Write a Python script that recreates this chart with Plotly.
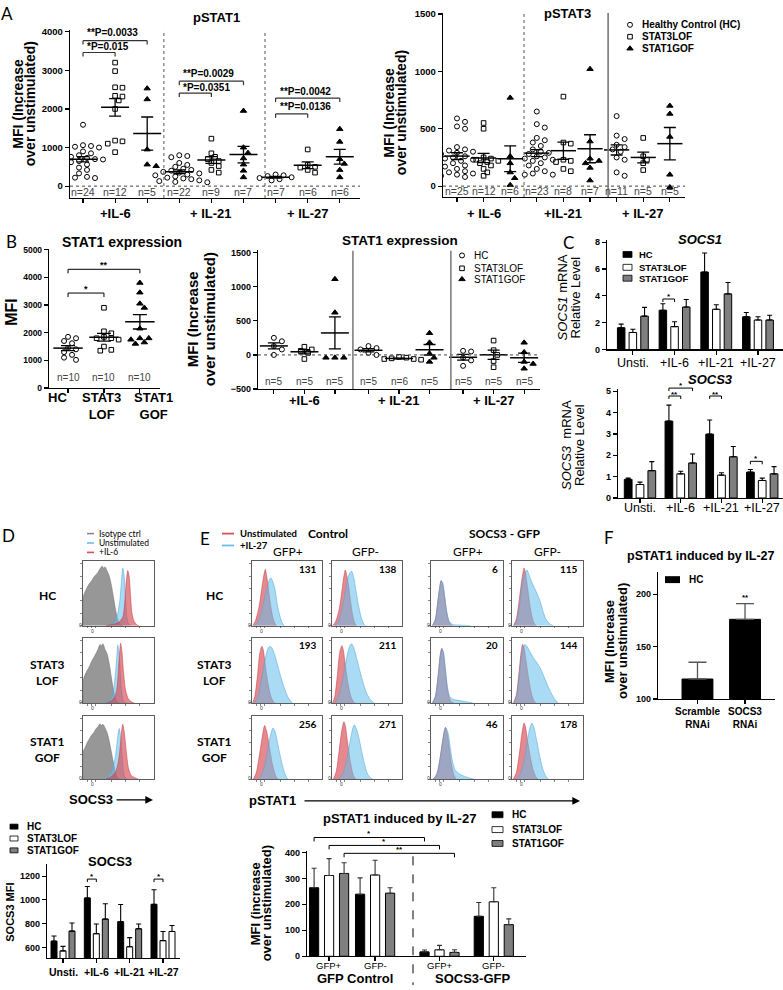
import numpy as np
import plotly.graph_objects as go

W, H = 783, 990
AR = "Liberation Sans, Arial, sans-serif"
CA = "Lato, Open Sans, sans-serif"

# ======================= DATA =======================
# ---- Panel A: pSTAT1, MFI (increase over unstimulated) ----
p1_il6_hc = [1590, 1060, 1040, 1020, 1000, 950, 900, 850, 800, 760, 730, 700,
             690, 670, 650, 620, 560, 480, 420, 330, 240, 220, 210, 200]
p1_il6_lof = [3200, 2980, 2560, 2550, 2340, 2320, 2220, 2000, 1180, 1160, 1100, 880]
p1_il6_gof = [2530, 2250, 950, 560, 520]
p1_il21_hc = [800, 780, 750, 600, 550, 500, 450, 420, 400, 370, 350, 330,
              300, 280, 250, 220, 200, 180, 150, 130, 110, 100]
p1_il21_lof = [1230, 850, 760, 700, 650, 600, 520, 420, 350]
p1_il21_gof = [1950, 1000, 860, 720, 560, 400, 230]
p1_il27_hc = [300, 280, 260, 230, 210, 180, 150]
p1_il27_lof = [950, 550, 500, 480, 420, 350]
p1_il27_gof = [1480, 1150, 700, 580, 420, 230]
p1_pvalues = ["**P=0.0033", "*P=0.015", "**P=0.0029", "*P=0.0351", "**P=0.0042", "**P=0.0136"]

# ---- Panel A: pSTAT3 ----
p3_il6_hc = [590, 560, 520, 500, 340, 310, 320, 300, 290, 280, 260, 250, 240,
             230, 220, 200, 180, 170, 150, 130, 120, 110, 100, 90, 80]
p3_il6_lof = [550, 500, 250, 240, 230, 220, 210, 200, 180, 150, 120, 90]
p3_il6_gof = [770, 260, 200, 120, 70, 10]
p3_il21_hc = [650, 540, 510, 420, 400, 380, 350, 320, 300, 290, 280, 260,
              250, 240, 230, 220, 200, 180, 150, 130, 110, 100, 100]
p3_il21_lof = [780, 380, 370, 230, 220, 210, 150, 130]
p3_il21_gof = [1020, 390, 240, 220, 200, 160, 50]
p3_il27_hc = [610, 440, 410, 360, 340, 320, 300, 250, 230, 120, 90]
p3_il27_lof = [420, 260, 230, 200, 140]
p3_il27_gof = [700, 630, 430, 100, -10]

stim_A1 = ["+IL-6", "+ IL-21", "+ IL-27"]
stim_A2 = ["+ IL-6", "+IL-21", "+ IL-27"]
legend_A = ["Healthy Control (HC)", "STAT3LOF", "STAT1GOF"]

# ---- Panel B: STAT1 expression (MFI) ----
b1_hc = [1850, 1800, 1700, 1620, 1450, 1400, 1300, 1200, 1100, 1020]
b1_lof = [2900, 2050, 1980, 1850, 1800, 1800, 1750, 1500, 1380, 1350]
b1_gof = [3800, 3450, 3050, 2900, 2150, 1800, 1800, 1750, 1650, 1600]
b1_labels = ["HC", "STAT3<br>LOF", "STAT1<br>GOF"]

# ---- Panel B: STAT1 expression (increase over unstimulated) ----
b2_il6_hc = [250, 200, 130, 80, 0]
b2_il6_lof = [120, 80, 60, 30, -60]
b2_il6_gof = [1110, 620, -40, -40, -40]
b2_il21_hc = [130, 100, 80, 30, 0]
b2_il21_lof = [-30, -40, -50, -60, -60, -70]
b2_il21_gof = [320, 180, 20, -40, -100]
b2_il27_hc = [60, 50, -40, -80, -160]
b2_il27_lof = [210, 70, 0, -90, -180]
b2_il27_gof = [180, 40, -100, -130, -200]
stim_B2 = ["+IL-6", "+ IL-21", "+ IL-27"]
legend_B2 = ["HC", "STAT3LOF", "STAT1GOF"]

# ---- Panel C: mRNA relative level (mean, SEM) ----
c_groups = ["Unsti.", "+IL-6", "+IL-21", "+IL-27"]
socs1_hc = [1.62, 2.93, 5.78, 2.44]
socs1_hc_err = [0.27, 0.48, 1.42, 0.32]
socs1_lof = [1.27, 1.71, 3.0, 2.2]
socs1_lof_err = [0.24, 0.36, 0.34, 0.24]
socs1_gof = [2.49, 3.17, 4.15, 2.2]
socs1_gof_err = [0.65, 0.56, 0.85, 0.36]
socs3_hc = [0.87, 3.6, 2.99, 1.21]
socs3_hc_err = [0.06, 0.75, 0.66, 0.12]
socs3_lof = [0.63, 1.13, 1.07, 0.82]
socs3_lof_err = [0.11, 0.12, 0.11, 0.11]
socs3_gof = [1.28, 1.64, 1.93, 1.13]
socs3_gof_err = [0.42, 0.42, 0.48, 0.34]
legend_bars = ["HC", "STAT3LOF", "STAT1GOF"]

# ---- Panel D: SOCS3 MFI (mean, SEM) ----
d_groups = ["Unsti.", "+IL-6", "+IL-21", "+IL-27"]
d_hc = [652, 1016, 816, 962]
d_hc_err = [44, 96, 145, 123]
d_lof = [570, 715, 605, 657]
d_lof_err = [38, 82, 77, 77]
d_gof = [737, 838, 756, 734]
d_gof_err = [68, 129, 41, 50]

# ---- Panel E: pSTAT1 induced by IL-27 (mean, SEM) ----
e_groups = ["GFP+", "GFP-", "GFP+", "GFP-"]
e_sets = ["GFP Control", "SOCS3-GFP"]
e_hc = [264, 239, 17, 154]
e_hc_err = [75, 63, 7, 53]
e_lof = [311, 313, 25, 210]
e_lof_err = [65, 57, 17, 54]
e_gof = [319, 243, 15, 122]
e_gof_err = [41, 21, 10, 22]

# ---- Panel F ----
f_groups = ["Scramble<br>RNAi", "SOCS3<br>RNAi"]
f_vals = [119, 176]
f_err = [16, 15]

# ---- Flow histograms (x: % of display width, y: % of mode) ----
d_rows = ["HC", "STAT3<br>LOF", "STAT1<br>GOF"]
d_legend = ["Isotype ctrl", "Unstimulated", "+IL-6"]
d_hc_iso = [(0, 0), (0, 45), (3, 55), (6, 62), (9, 68), (12, 72), (15, 78), (18, 82), (21, 86),
            (24, 92), (27, 96), (29, 93), (31, 95), (34, 88), (37, 80), (40, 65), (43, 45),
            (46, 25), (49, 10), (52, 3), (56, 0)]
d_hc_uns = [(34, 0), (40, 2), (45, 8), (49, 20), (52, 42), (54, 68), (56, 93), (58, 80),
            (60, 40), (62, 12), (64, 3), (67, 0)]
d_hc_il6 = [(32, 0), (42, 2), (50, 5), (56, 14), (59, 40), (61, 72), (63, 89), (65, 80),
            (67, 48), (69, 20), (72, 7), (76, 1), (79, 0)]
d_lof_iso = [(0, 0), (0, 35), (3, 45), (6, 52), (9, 58), (12, 66), (15, 72), (18, 78), (21, 85),
             (24, 93), (26, 90), (28, 94), (31, 85), (34, 78), (37, 62), (40, 40), (43, 20),
             (46, 6), (49, 1), (52, 0)]
d_lof_uns = [(30, 0), (36, 2), (40, 8), (43, 20), (46, 50), (48, 80), (49, 92), (51, 75),
             (53, 40), (55, 12), (57, 3), (60, 0)]
d_lof_il6 = [(34, 0), (40, 3), (45, 10), (48, 25), (50, 55), (52, 85), (53, 95), (55, 80),
             (57, 50), (60, 20), (64, 6), (69, 1), (72, 0)]
d_gof_iso = [(0, 0), (0, 44), (3, 52), (6, 60), (9, 66), (12, 72), (15, 76), (18, 82), (21, 86),
             (24, 91), (26, 88), (28, 90), (31, 84), (34, 76), (37, 62), (40, 44), (43, 26),
             (46, 10), (49, 2), (52, 0)]
d_gof_uns = [(28, 0), (34, 3), (39, 10), (43, 22), (46, 40), (49, 70), (51, 83), (53, 70),
             (55, 38), (57, 12), (59, 3), (62, 0)]
d_gof_il6 = [(32, 0), (40, 4), (46, 12), (50, 30), (53, 60), (55, 85), (56, 90), (58, 78),
             (61, 45), (64, 18), (68, 6), (74, 2), (78, 0)]

e_cols = ["GFP+", "GFP-", "GFP+", "GFP-"]
e_heads = ["Control", "SOCS3 - GFP"]
e_legend = ["Unstimulated", "+IL-27"]
e_numbers = [[131, 138, 6, 115], [193, 211, 20, 144], [256, 271, 46, 178]]
e_r1_c1_uns = [(1, 0), (5, 8), (10, 30), (14, 60), (17, 82), (19, 91), (21, 80), (24, 55), (27, 30), (30, 12), (33, 3), (35, 0)]
e_r1_c1_il27 = [(3, 0), (8, 5), (13, 20), (18, 45), (22, 62), (25, 75), (27, 77), (30, 70), (33, 58), (36, 35), (40, 15), (43, 5), (46, 0)]
e_r1_c2_uns = [(1, 0), (5, 6), (10, 25), (14, 55), (17, 80), (19, 90), (21, 82), (24, 62), (27, 35), (30, 14), (33, 3), (35, 0)]
e_r1_c2_il27 = [(4, 0), (9, 6), (14, 25), (19, 55), (23, 78), (26, 86), (28, 88), (31, 78), (34, 58), (38, 32), (42, 12), (46, 2), (48, 0)]
e_r1_c3_uns = [(2, 0), (6, 10), (9, 35), (12, 62), (14, 73), (16, 68), (19, 45), (22, 20), (25, 6), (28, 1), (30, 0)]
e_r1_c3_il27 = [(2, 0), (6, 9), (9, 33), (12, 60), (14, 71), (16, 70), (19, 48), (22, 22), (25, 8), (30, 2), (40, 1), (55, 0)]
e_r1_c4_uns = [(2, 0), (6, 10), (10, 40), (14, 75), (17, 93), (19, 85), (22, 60), (25, 35), (28, 15), (31, 4), (34, 0)]
e_r1_c4_il27 = [(3, 0), (7, 8), (11, 35), (15, 70), (19, 86), (21, 90), (24, 82), (28, 70), (32, 60), (36, 50), (40, 38), (44, 22), (48, 10), (53, 3), (58, 0)]
e_r2_c1_uns = [(1, 0), (4, 10), (8, 45), (11, 78), (14, 90), (16, 85), (19, 60), (23, 30), (27, 10), (31, 1), (33, 0)]
e_r2_c1_il27 = [(3, 0), (8, 8), (13, 35), (18, 65), (22, 84), (25, 90), (28, 88), (32, 78), (36, 62), (41, 42), (46, 24), (51, 10), (55, 3), (58, 0)]
e_r2_c2_uns = [(1, 0), (4, 10), (8, 48), (11, 80), (14, 91), (16, 85), (19, 60), (23, 30), (27, 10), (31, 1), (33, 0)]
e_r2_c2_il27 = [(4, 0), (9, 8), (14, 30), (19, 60), (23, 82), (26, 92), (28, 94), (31, 88), (35, 72), (40, 50), (45, 30), (50, 14), (55, 5), (60, 0)]
e_r2_c3_uns = [(2, 0), (6, 10), (10, 45), (13, 78), (15, 87), (17, 80), (20, 50), (23, 20), (26, 6), (29, 1), (32, 0)]
e_r2_c3_il27 = [(2, 0), (6, 9), (10, 42), (13, 75), (15, 85), (17, 82), (20, 55), (23, 24), (26, 10), (30, 6), (38, 4), (48, 2), (58, 0)]
e_r2_c4_uns = [(2, 0), (6, 12), (10, 50), (13, 82), (15, 93), (17, 88), (20, 65), (24, 35), (28, 12), (32, 1), (34, 0)]
e_r2_c4_il27 = [(3, 0), (7, 12), (11, 50), (15, 85), (18, 93), (21, 90), (25, 82), (30, 72), (35, 64), (40, 55), (45, 42), (50, 28), (55, 16), (60, 6), (65, 0)]
e_r3_c1_uns = [(2, 0), (6, 10), (10, 35), (14, 65), (17, 85), (18, 88), (21, 78), (25, 52), (29, 25), (33, 8), (36, 1), (38, 0)]
e_r3_c1_il27 = [(8, 0), (13, 6), (18, 22), (22, 45), (26, 70), (29, 82), (30, 84), (33, 78), (36, 62), (40, 40), (44, 20), (48, 6), (51, 0)]
e_r3_c2_uns = [(2, 0), (6, 12), (10, 45), (14, 80), (17, 94), (19, 88), (22, 62), (26, 30), (30, 8), (33, 1), (35, 0)]
e_r3_c2_il27 = [(10, 0), (15, 8), (20, 25), (24, 50), (28, 75), (31, 88), (32, 89), (35, 82), (39, 65), (43, 42), (47, 22), (51, 8), (55, 2), (58, 0)]
e_r3_c3_uns = [(3, 0), (8, 8), (12, 30), (16, 62), (19, 82), (20, 85), (23, 72), (26, 45), (29, 20), (32, 6), (35, 0)]
e_r3_c3_il27 = [(3, 0), (8, 7), (12, 28), (16, 60), (19, 80), (21, 84), (24, 74), (27, 50), (30, 28), (34, 14), (40, 8), (48, 4), (56, 1), (60, 0)]
e_r3_c4_uns = [(2, 0), (6, 10), (10, 38), (14, 75), (17, 92), (19, 85), (22, 62), (26, 35), (30, 14), (34, 3), (36, 0)]
e_r3_c4_il27 = [(6, 0), (11, 6), (16, 25), (20, 52), (24, 78), (27, 90), (28, 92), (31, 84), (35, 62), (39, 38), (43, 18), (47, 6), (51, 0)]

# ======================= HELPERS =======================
fig = go.Figure()
LAY, ANN, SHP = {}, [], []
_n = [0]


def axes(x0, x1, y0, y1, xr, yr, xo=None, yo=None):
    _n[0] += 1
    s = '' if _n[0] == 1 else str(_n[0])
    base = dict(showgrid=False, zeroline=False, showline=True, linecolor='black',
                linewidth=1.2, ticks='', showticklabels=False, fixedrange=True)
    xa = dict(base, domain=[x0 / W, x1 / W], range=xr, anchor='y' + s)
    ya = dict(base, domain=[1 - y1 / H, 1 - y0 / H], range=yr, anchor='x' + s)
    if xo:
        xa.update(xo)
    if yo:
        ya.update(yo)
    LAY['xaxis' + s] = xa
    LAY['yaxis' + s] = ya
    return 'x' + s, 'y' + s


def yax(vals, size=9, **kw):
    d = dict(ticks='outside', ticklen=4, tickwidth=1.2, tickcolor='black', tickvals=vals,
             showticklabels=True, tickfont=dict(family=AR, size=size, color='black', weight='bold'))
    d.update(kw)
    return d


def xticks(vals, **kw):
    d = dict(ticks='outside', ticklen=4, tickwidth=1.2, tickcolor='black', tickvals=vals)
    d.update(kw)
    return d


def T(s, x, y, size=9, bold=False, fam=AR, anc='center', vanc='middle', color='black',
      angle=0, xref='paper', italic=False):
    if italic:
        s = '<i>' + s + '</i>'
    if bold:
        s = '<b>' + s + '</b>'
    ANN.append(dict(text=s, x=(x / W) if xref == 'paper' else x, y=1 - y / H, xref=xref,
                    yref='paper', xanchor=anc, yanchor=vanc, showarrow=False, textangle=angle,
                    font=dict(family=fam, size=size, color=color)))


def L(x0, y0, x1, y1, xref='paper', yref='paper', color='black', width=1.0, dash='solid'):
    if xref == 'paper':
        x0, x1 = x0 / W, x1 / W
    if yref == 'paper':
        y0, y1 = 1 - y0 / H, 1 - y1 / H
    SHP.append(dict(type='line', x0=x0, x1=x1, y0=y0, y1=y1, xref=xref, yref=yref,
                    line=dict(color=color, width=width, dash=dash)))


def R(x0, y0, x1, y1, fill, line='black', lw=0.8):
    SHP.append(dict(type='rect', x0=x0 / W, x1=x1 / W, y0=1 - y1 / H, y1=1 - y0 / H,
                    xref='paper', yref='paper', fillcolor=fill, line=dict(color=line, width=lw)))


def bracket(xref, xa_, xb_, ypx, leg=4, width=1.0, color='black'):
    L(xa_, ypx, xb_, ypx, xref=xref, width=width, color=color)
    L(xa_, ypx, xa_, ypx + leg, xref=xref, width=width, color=color)
    L(xb_, ypx, xb_, ypx + leg, xref=xref, width=width, color=color)


def ytitle(lines, xc, yc, size, gap, bold=True, fam=AR):
    n = len(lines)
    for i, ln in enumerate(lines):
        T(ln, xc + (i - (n - 1) / 2) * gap, yc, size=size, bold=bold, angle=-90, fam=fam)


def swarm(vals, ppu, d, step):
    ypx = np.asarray(vals, float) * ppu
    order = np.argsort(-ypx, kind='stable')
    placed = []
    off = np.zeros(len(ypx))
    cands = [0.0]
    for k in range(1, 14):
        cands += [k * step, -k * step]
    for i in order:
        c = 0.0
        for c in cands:
            if all((c - xo) ** 2 + (ypx[i] - yo) ** 2 >= d * d for yo, xo in placed):
                break
        off[i] = c
        placed.append((ypx[i], c))
    return off


SYM = {'hc': ('circle-open', 5), 'lof': ('square-open', 4.6), 'gof': ('triangle-up', 5.6)}


def dots(xa, ya, pos, vals, kind, ppx, ppy, mw, cw):
    sym, sz = SYM[kind]
    v = np.asarray(vals, float)
    off = swarm(v, ppy, sz + 0.4, sz * 0.8) / ppx
    fig.add_trace(go.Scatter(x=pos + off, y=v, mode='markers',
                             marker=dict(symbol=sym, size=sz, color='black',
                                         line=dict(color='black', width=1.0)),
                             xaxis=xa, yaxis=ya, showlegend=False, hoverinfo='skip'))
    m = v.mean()
    se = v.std(ddof=1) / np.sqrt(len(v))
    fig.add_trace(go.Scatter(x=[pos], y=[m], mode='markers',
                             marker=dict(symbol='line-ew', size=mw, color='black',
                                         line=dict(color='black', width=1.5)),
                             error_y=dict(type='data', array=[se], width=cw, thickness=1.3,
                                          color='black'),
                             xaxis=xa, yaxis=ya, showlegend=False, hoverinfo='skip'))


def bars(xa, ya, centers, offset, width, series, colors, errcolor='black', lw=1.0, cap=2.5):
    for k, (vals, errs) in enumerate(series):
        xs = [c + (k - (len(series) - 1) / 2) * offset for c in centers]
        fig.add_trace(go.Bar(x=xs, y=vals, width=width,
                             marker=dict(color=colors[k], line=dict(color='black', width=lw)),
                             error_y=dict(type='data', symmetric=False, array=errs,
                                          arrayminus=[0] * len(errs), width=cap, thickness=1.1,
                                          color=errcolor),
                             xaxis=xa, yaxis=ya, showlegend=False, hoverinfo='skip'))


def flow(x0, x1, y0, y1, curves):
    fx = dict(mirror=True, linewidth=0.8, linecolor='#333', ticks='outside', ticklen=2,
              tickwidth=0.6, tickcolor='#333')
    xa, ya = axes(x0, x1, y0, y1, [0, 100], [0, 104],
                  xo=dict(fx, tickvals=[6, 12, 18, 40, 60, 80]),
                  yo=dict(fx, tickvals=[0, 20, 40, 60, 80, 100]))
    for pts, fill, line in curves:
        fig.add_trace(go.Scatter(x=[p[0] for p in pts], y=[p[1] for p in pts], mode='lines',
                                 line=dict(color=line, width=0.6, shape='spline', smoothing=0.7),
                                 fill='tozeroy', fillcolor=fill, xaxis=xa, yaxis=ya,
                                 showlegend=False, hoverinfo='skip'))
    T('0', x0 - 3, y1 - 1, size=5, color='#333')
    T('0', x0 + 0.13 * (x1 - x0), y1 + 5, size=5, color='#333')
    return xa, ya


KINDS = ['hc', 'lof', 'gof']
TIT = 13

# ======================= PANEL A: pSTAT1 =======================
A1 = [p1_il6_hc, p1_il6_lof, p1_il6_gof, p1_il21_hc, p1_il21_lof, p1_il21_gof,
      p1_il27_hc, p1_il27_lof, p1_il27_gof]
posA = [3 * g + m for g in range(3) for m in range(3)]
xa, ya = axes(70, 360, 25, 195, [-0.405, 8.63], [-308, 4051],
              xo=xticks(posA), yo=yax([0, 1000, 2000, 3000, 4000], size=9.5))
SHP.append(dict(type='line', xref=xa, yref=ya, x0=-0.405, x1=8.63, y0=0, y1=0,
                line=dict(color='#444', width=1, dash='dot')))
for s in [2.52, 5.67]:
    SHP.append(dict(type='line', xref=xa, yref=ya, x0=s, x1=s, y0=-308, y1=4051,
                    line=dict(color='#555', width=1, dash='dot')))
for i, (vals, pos) in enumerate(zip(A1, posA)):
    dots(xa, ya, pos, vals, KINDS[i % 3], 32.1, 0.039, 20, 6)
    T(f"n={len(vals)}", pos, 189, size=10.5, color='#444', xref=xa)
for g in range(3):
    T(stim_A1[g], 3 * g + 1, 211, size=13, bold=True, xref=xa)
br = [(0, 2, 36, 28), (0, 1, 48, 42), (3, 5, 77, 69), (3, 4, 89, 83), (6, 8, 94, 87), (6, 7, 110, 103)]
for (a, b, yb, yt), txt in zip(br, p1_pvalues):
    bracket(xa, a, b, yb, leg=4, width=1.2, color='#333')
    T(txt, a + 0.06, yt, size=10, bold=True, xref=xa, anc='left')
T("pSTAT1", 216, 13, size=TIT, bold=True)
ytitle(["MFI (Increase", "over unstimulated)"], 24, 100, 14, 12.5)
T("A", 7, 9, size=17, fam=CA)

# ======================= PANEL A: pSTAT3 =======================
A2 = [p3_il6_hc, p3_il6_lof, p3_il6_gof, p3_il21_hc, p3_il21_lof, p3_il21_gof,
      p3_il27_hc, p3_il27_lof, p3_il27_gof]
xa, ya = axes(443, 685, 8, 194, [-0.526, 8.57], [-95, 1509],
              xo=xticks(posA), yo=yax([0, 500, 1000, 1500], size=9.5))
SHP.append(dict(type='line', xref=xa, yref=ya, x0=-0.526, x1=8.57, y0=0, y1=0,
                line=dict(color='#444', width=1, dash='dot')))
SHP.append(dict(type='line', xref=xa, yref=ya, x0=2.52, x1=2.52, y0=-95, y1=1509,
                line=dict(color='#555', width=1, dash='dot')))
SHP.append(dict(type='line', xref=xa, yref=ya, x0=5.68, x1=5.68, y0=-95, y1=1509,
                line=dict(color='#777', width=1.6)))
for i, (vals, pos) in enumerate(zip(A2, posA)):
    dots(xa, ya, pos, vals, KINDS[i % 3], 26.6, 0.116, 18, 6)
    T(f"n={len(vals)}", pos, 188, size=10.5, color='#444', xref=xa)
for g in range(3):
    T(stim_A2[g], 3 * g + 1, 211, size=13, bold=True, xref=xa)
T("pSTAT3", 567, 9, size=TIT, bold=True)
ytitle(["MFI (Increase", "over unstimulated)"], 395, 109, 14, 12.5)

# overlay (pixel) axis for legend glyphs
xo_, yo_ = axes(0, W, 0, H, [0, W], [H, 0], xo=dict(showline=False), yo=dict(showline=False))
for k, yy in zip(KINDS, [20, 32, 44]):
    sym, sz = SYM[k]
    fig.add_trace(go.Scatter(x=[630], y=[yy], mode='markers',
                             marker=dict(symbol=sym, size=sz, color='black', line=dict(color='black', width=1)),
                             xaxis=xo_, yaxis=yo_, showlegend=False, hoverinfo='skip'))
for txt, yy in zip(legend_A, [20, 32, 44]):
    T(txt, 640, yy, size=10, bold=True, anc='left')

# ======================= PANEL B: STAT1 expression (MFI) =======================
B1 = [b1_hc, b1_lof, b1_gof]
xa, ya = axes(49, 160, 246, 387, [-0.53, 2.56], [0, 5040],
              xo=xticks([0, 1, 2]), yo=yax([0, 1000, 2000, 3000, 4000, 5000], size=8.5))
for i, vals in enumerate(B1):
    dots(xa, ya, i, vals, KINDS[i], 36, 0.028, 21, 7)
    T(f"n={len(vals)}", i, 376, size=10, color='#444', xref=xa)
for lbl, xc in zip(b1_labels, [57, 101, 153]):
    T(lbl, xc, 387, size=13, bold=True, vanc='top')
bracket(xa, 0, 1, 291, leg=4)
T("*", 0.5, 287, size=9, bold=True, xref=xa)
bracket(xa, 0, 2, 267, leg=4)
T("**", 1, 263, size=9, bold=True, xref=xa)
T("STAT1 expression", 122, 239, size=14, bold=True)
T("MFI", 12, 310, size=16, bold=True, angle=-90)
T("B", 11, 239, size=17, fam=CA)

# ======================= PANEL B: STAT1 expression increase =======================
B2 = [b2_il6_hc, b2_il6_lof, b2_il6_gof, b2_il21_hc, b2_il21_lof, b2_il21_gof,
      b2_il27_hc, b2_il27_lof, b2_il27_gof]
posB = [3.1 * g + m for g in range(3) for m in range(3)]
xa, ya = axes(258, 540, 248, 388, [-0.52, 8.72], [-500, 1529],
              xo=xticks(posB), yo=yax([-500, 0, 500, 1000, 1500], size=9))
SHP.append(dict(type='line', xref=xa, yref=ya, x0=-0.52, x1=8.72, y0=0, y1=0,
                line=dict(color='#444', width=1, dash='dot')))
for s in [2.59, 5.80]:
    SHP.append(dict(type='line', xref=xa, yref=ya, x0=s, x1=s, y0=-500, y1=1529,
                    line=dict(color='#777', width=1.5)))
for i, (vals, pos) in enumerate(zip(B2, posB)):
    dots(xa, ya, pos, vals, KINDS[i % 3], 30.5, 0.069, 20, 6)
    T(f"n={len(vals)}", pos, 380, size=10, color='#444', xref=xa)
for g in range(3):
    T(stim_B2[g], 3.1 * g + 1, 400, size=13, bold=True, xref=xa)
T("STAT1 expression", 400, 238, size=13.5, bold=True)
ytitle(["MFI (Increase", "over unstimulated)"], 201, 318, 15, 17)
for k, yy in zip(KINDS, [253, 266, 277]):
    sym, sz = SYM[k]
    fig.add_trace(go.Scatter(x=[462], y=[yy], mode='markers',
                             marker=dict(symbol=sym, size=sz, color='black', line=dict(color='black', width=1)),
                             xaxis=xo_, yaxis=yo_, showlegend=False, hoverinfo='skip'))
for txt, yy in zip(legend_B2, [253, 266, 277]):
    T(txt, 472, yy, size=10, anc='left')

# ======================= PANEL C =======================
BAR_COL = ['black', 'white', '#7f7f7f']
xa, ya = axes(607, 783, 237, 348, [-0.62, 3.6], [0, 8.2],
              xo=xticks([0, 1, 2, 3]), yo=yax([0, 2, 4, 6, 8], size=9))
bars(xa, ya, [0, 1, 2, 3], 0.28, 0.18,
     [(socs1_hc, socs1_hc_err), (socs1_lof, socs1_lof_err), (socs1_gof, socs1_gof_err)], BAR_COL)
for j, g in enumerate(c_groups):
    T(g, j, 362, size=12.5, xref=xa)
bracket(xa, 0.72, 1.0, 297, leg=3)
T("*", 0.86, 294, size=8, bold=True, xref=xa)
T("SOCS1", 700, 237, size=13, bold=True, italic=True)
ytitle(["<i>SOCS1</i> mRNA", "Relative Level"], 569, 296, 13, 13, bold=False)
for txt, yy, col in zip(legend_bars, [252, 265, 276], BAR_COL):
    R(623, yy - 3, 632, yy + 3, col)
    T(txt, 637, yy, size=9.5, bold=True, anc='left')
T("C", 568, 240, size=17, fam=CA)

xa, ya = axes(618, 783, 388, 498, [-0.54, 3.51], [0, 5.1],
              xo=xticks([0, 1, 2, 3]), yo=yax([0, 1, 2, 3, 4, 5], size=9))
bars(xa, ya, [0, 1, 2, 3], 0.29, 0.19,
     [(socs3_hc, socs3_hc_err), (socs3_lof, socs3_lof_err), (socs3_gof, socs3_gof_err)], BAR_COL)
for j, g in enumerate(c_groups):
    T(g, j, 508, size=12.5, xref=xa)
bracket(xa, 0.71, 1.29, 387, leg=3)
T("*", 1.0, 384, size=8, bold=True, xref=xa)
bracket(xa, 0.71, 1.0, 395, leg=3)
T("**", 0.855, 393, size=8, bold=True, xref=xa)
bracket(xa, 1.71, 2.0, 395, leg=3)
T("**", 1.855, 393, size=8, bold=True, xref=xa)
bracket(xa, 2.71, 3.0, 461, leg=3)
T("*", 2.855, 458, size=8, bold=True, xref=xa)
T("SOCS3", 710, 378, size=13, bold=True, italic=True)
ytitle(["<i>SOCS3</i>  mRNA", "Relative Level"], 573, 445, 13, 13, bold=False)

# ======================= PANEL D: flow =======================
BLUE_F, BLUE_L = 'rgba(100,190,235,0.55)', 'rgba(80,165,215,0.9)'
RED_F, RED_L = 'rgba(215,65,75,0.62)', 'rgba(200,60,70,0.9)'
ISO_F, ISO_L = 'rgba(145,145,145,0.95)', '#777777'
rows_y = [(562, 627), (639, 705), (718, 782)]
d_curves = [(d_hc_iso, d_hc_uns, d_hc_il6), (d_lof_iso, d_lof_uns, d_lof_il6),
            (d_gof_iso, d_gof_uns, d_gof_il6)]
for (y0, y1), (iso, uns, il6), lbl in zip(rows_y, d_curves, d_rows):
    flow(83, 154, y0, y1, [(iso, ISO_F, ISO_L), (uns, BLUE_F, BLUE_L), (il6, RED_F, RED_L)])
    T(lbl, 47, (y0 + y1) / 2 + 2, size=12, bold=True, fam=CA)
for txt, yy, col in zip(d_legend, [534, 543.5, 553], ['#888', '#6cc0ea', '#d9505a']):
    L(87, yy, 94, yy, color=col, width=1.6)
    T(txt, 97, yy, size=8.5, fam=CA, anc='left')
T("SOCS3", 91, 803, size=13, bold=True)
ANN.append(dict(x=153 / W, y=1 - 803 / H, xref='paper', yref='paper', ax=-38, ay=0,
                axref='pixel', ayref='pixel', showarrow=True, arrowhead=2, arrowsize=1.1,
                arrowwidth=1.4, arrowcolor='black', text=''))
T("D", 8, 536, size=17, fam=CA)

# ======================= PANEL E: flow =======================
cols_x = [(252, 322), (332, 402), (431, 503), (512, 583)]
e_curves = [[(e_r1_c1_uns, e_r1_c1_il27), (e_r1_c2_uns, e_r1_c2_il27), (e_r1_c3_uns, e_r1_c3_il27), (e_r1_c4_uns, e_r1_c4_il27)],
            [(e_r2_c1_uns, e_r2_c1_il27), (e_r2_c2_uns, e_r2_c2_il27), (e_r2_c3_uns, e_r2_c3_il27), (e_r2_c4_uns, e_r2_c4_il27)],
            [(e_r3_c1_uns, e_r3_c1_il27), (e_r3_c2_uns, e_r3_c2_il27), (e_r3_c3_uns, e_r3_c3_il27), (e_r3_c4_uns, e_r3_c4_il27)]]
for r, (y0, y1) in enumerate(rows_y):
    for c, (x0, x1) in enumerate(cols_x):
        uns, stim = e_curves[r][c]
        flow(x0, x1, y0, y1, [(uns, RED_F, RED_L), (stim, BLUE_F, BLUE_L)])
        T(str(e_numbers[r][c]), x1 - 3, y0 + 8, size=10, bold=True, fam=CA, anc='right')
    T(d_rows[r], 214, (y0 + y1) / 2 + 2, size=12, bold=True, fam=CA)
for c, (x0, x1) in enumerate(cols_x):
    T(e_cols[c], [288, 365, 468, 547][c], 552, size=12, fam=CA)
T(e_heads[0], 328, 534, size=12, bold=True, fam=CA)
T(e_heads[1], 505, 534, size=12, bold=True, fam=CA)
for txt, yy, col in zip(e_legend, [534, 546], ['#d9505a', '#6cc0ea']):
    L(222, yy, 234, yy, color=col, width=1.8)
    T(txt, 238, yy, size=9.5, bold=True, fam=CA, anc='left')
T("pSTAT1", 272, 804, size=13, bold=True)
ANN.append(dict(x=580 / W, y=1 - 804 / H, xref='paper', yref='paper', ax=-277, ay=0,
                axref='pixel', ayref='pixel', showarrow=True, arrowhead=2, arrowsize=1.1,
                arrowwidth=1.4, arrowcolor='black', text=''))
T("E", 205, 539, size=17, fam=CA)

# ======================= PANEL F =======================
xa, ya = axes(658, 775, 573, 701, [-0.83, 1.63], [100, 221],
              xo=xticks([0, 1]), yo=yax([100, 150, 200], size=9))
fig.add_trace(go.Bar(x=[0, 1], y=f_vals, width=0.65, marker=dict(color='black', line=dict(color='black', width=1)),
                     error_y=dict(type='data', symmetric=False, array=f_err, arrayminus=[0, 0], width=9,
                                  thickness=1.3, color='#555'),
                     xaxis=xa, yaxis=ya, showlegend=False, hoverinfo='skip'))
for j, g in enumerate(f_groups):
    T(g, j, 706, size=10, bold=True, xref=xa, vanc='top')
T("**", 1, 599, size=8, bold=True, xref=xa)
T("pSTAT1 induced by IL-27", 701, 557, size=12.5, bold=True)
ytitle(["MFI (Increase", "over unstimulated)"], 616, 643, 13, 13)
SHP.append(dict(type='rect', x0=665 / W, x1=680 / W, y0=1 - 584 / H, y1=1 - 577 / H, xref='paper',
                yref='paper', fillcolor='black', line=dict(color='black', width=0)))
T("HC", 687, 580, size=10, bold=True, anc='left')
T("F", 609, 538, size=17, fam=CA)

# ======================= PANEL D: bars =======================
xa, ya = axes(47, 180, 868, 963, [-0.48, 3.51], [508, 1300],
              xo=xticks([0, 1, 2, 3]), yo=yax([600, 800, 1000, 1200], size=9))
gof_cols_d = ['#7f7f7f', '#7f7f7f', '#7f7f7f', 'white']
bars(xa, ya, [0, 1, 2, 3], 0.27, 0.18,
     [(d_hc, d_hc_err), (d_lof, d_lof_err), (d_gof, d_gof_err)], ['black', 'white', gof_cols_d])
for j, g in enumerate(d_groups):
    T(g, j, 977, size=10.5, bold=True, xref=xa)
for j in [1, 3]:
    bracket(xa, j - 0.27, j, 883, leg=3)
    T("*", j - 0.135, 880, size=8, bold=True, xref=xa)
T("SOCS3", 110, 865, size=13, bold=True)
T("SOCS3 MFI", 10, 917, size=11, bold=True, angle=-90)
for txt, yy, col in zip(legend_bars, [830, 842, 854], BAR_COL):
    R(10, yy - 2.5, 18, yy + 2.5, col)
    T(txt, 25, yy, size=10, bold=True, anc='left')

# ======================= PANEL E: bars =======================
e_centers = [0, 1, 2.4, 3.58]
xa, ya = axes(307, 526, 855, 961, [-0.48, 4.28], [0, 404],
              xo=xticks(e_centers), yo=yax([0, 100, 200, 300, 400], size=9))
bars(xa, ya, e_centers, 0.326, 0.2,
     [(e_hc, e_hc_err), (e_lof, e_lof_err), (e_gof, e_gof_err)], BAR_COL, errcolor='#333')
for c, g in zip(e_centers, e_groups):
    T(g, c, 970, size=9.5, xref=xa)
T(e_sets[0], 355, 983, size=13, bold=True)
T(e_sets[1], 473, 983, size=13, bold=True)
L(413, 860, 413, 990, width=1, dash='dash')
for k, (yb, txt) in enumerate(zip([841, 849, 857], ["*", "*", "**"])):
    off = (k - 1) * 0.326
    bracket(xa, 0 + off, 2.4 + off, yb, leg=4)
    T(txt, 1.2 + off, yb - 4, size=8, bold=True, xref=xa)
T("pSTAT1 induced by IL-27", 399, 822, size=13, bold=True)
ytitle(["MFI (increase", "over unstimulated)"], 261, 908, 13, 11)
for txt, yy, col in zip(legend_bars, [818, 833, 847], BAR_COL):
    R(492, yy - 3, 503, yy + 3, col)
    T(txt, 510, yy, size=10, bold=True, anc='left')

# ======================= LAYOUT =======================
fig.update_layout(width=W, height=H, margin=dict(l=0, r=0, t=0, b=0),
                  paper_bgcolor='white', plot_bgcolor='rgba(0,0,0,0)', showlegend=False,
                  barmode='overlay', annotations=ANN, shapes=SHP, font=dict(family=AR), **LAY)
fig.write_html("out.html", config={'displayModeBar': False, 'staticPlot': True},
               post_script="document.body.style.margin='0';document.body.style.overflow='hidden';")
